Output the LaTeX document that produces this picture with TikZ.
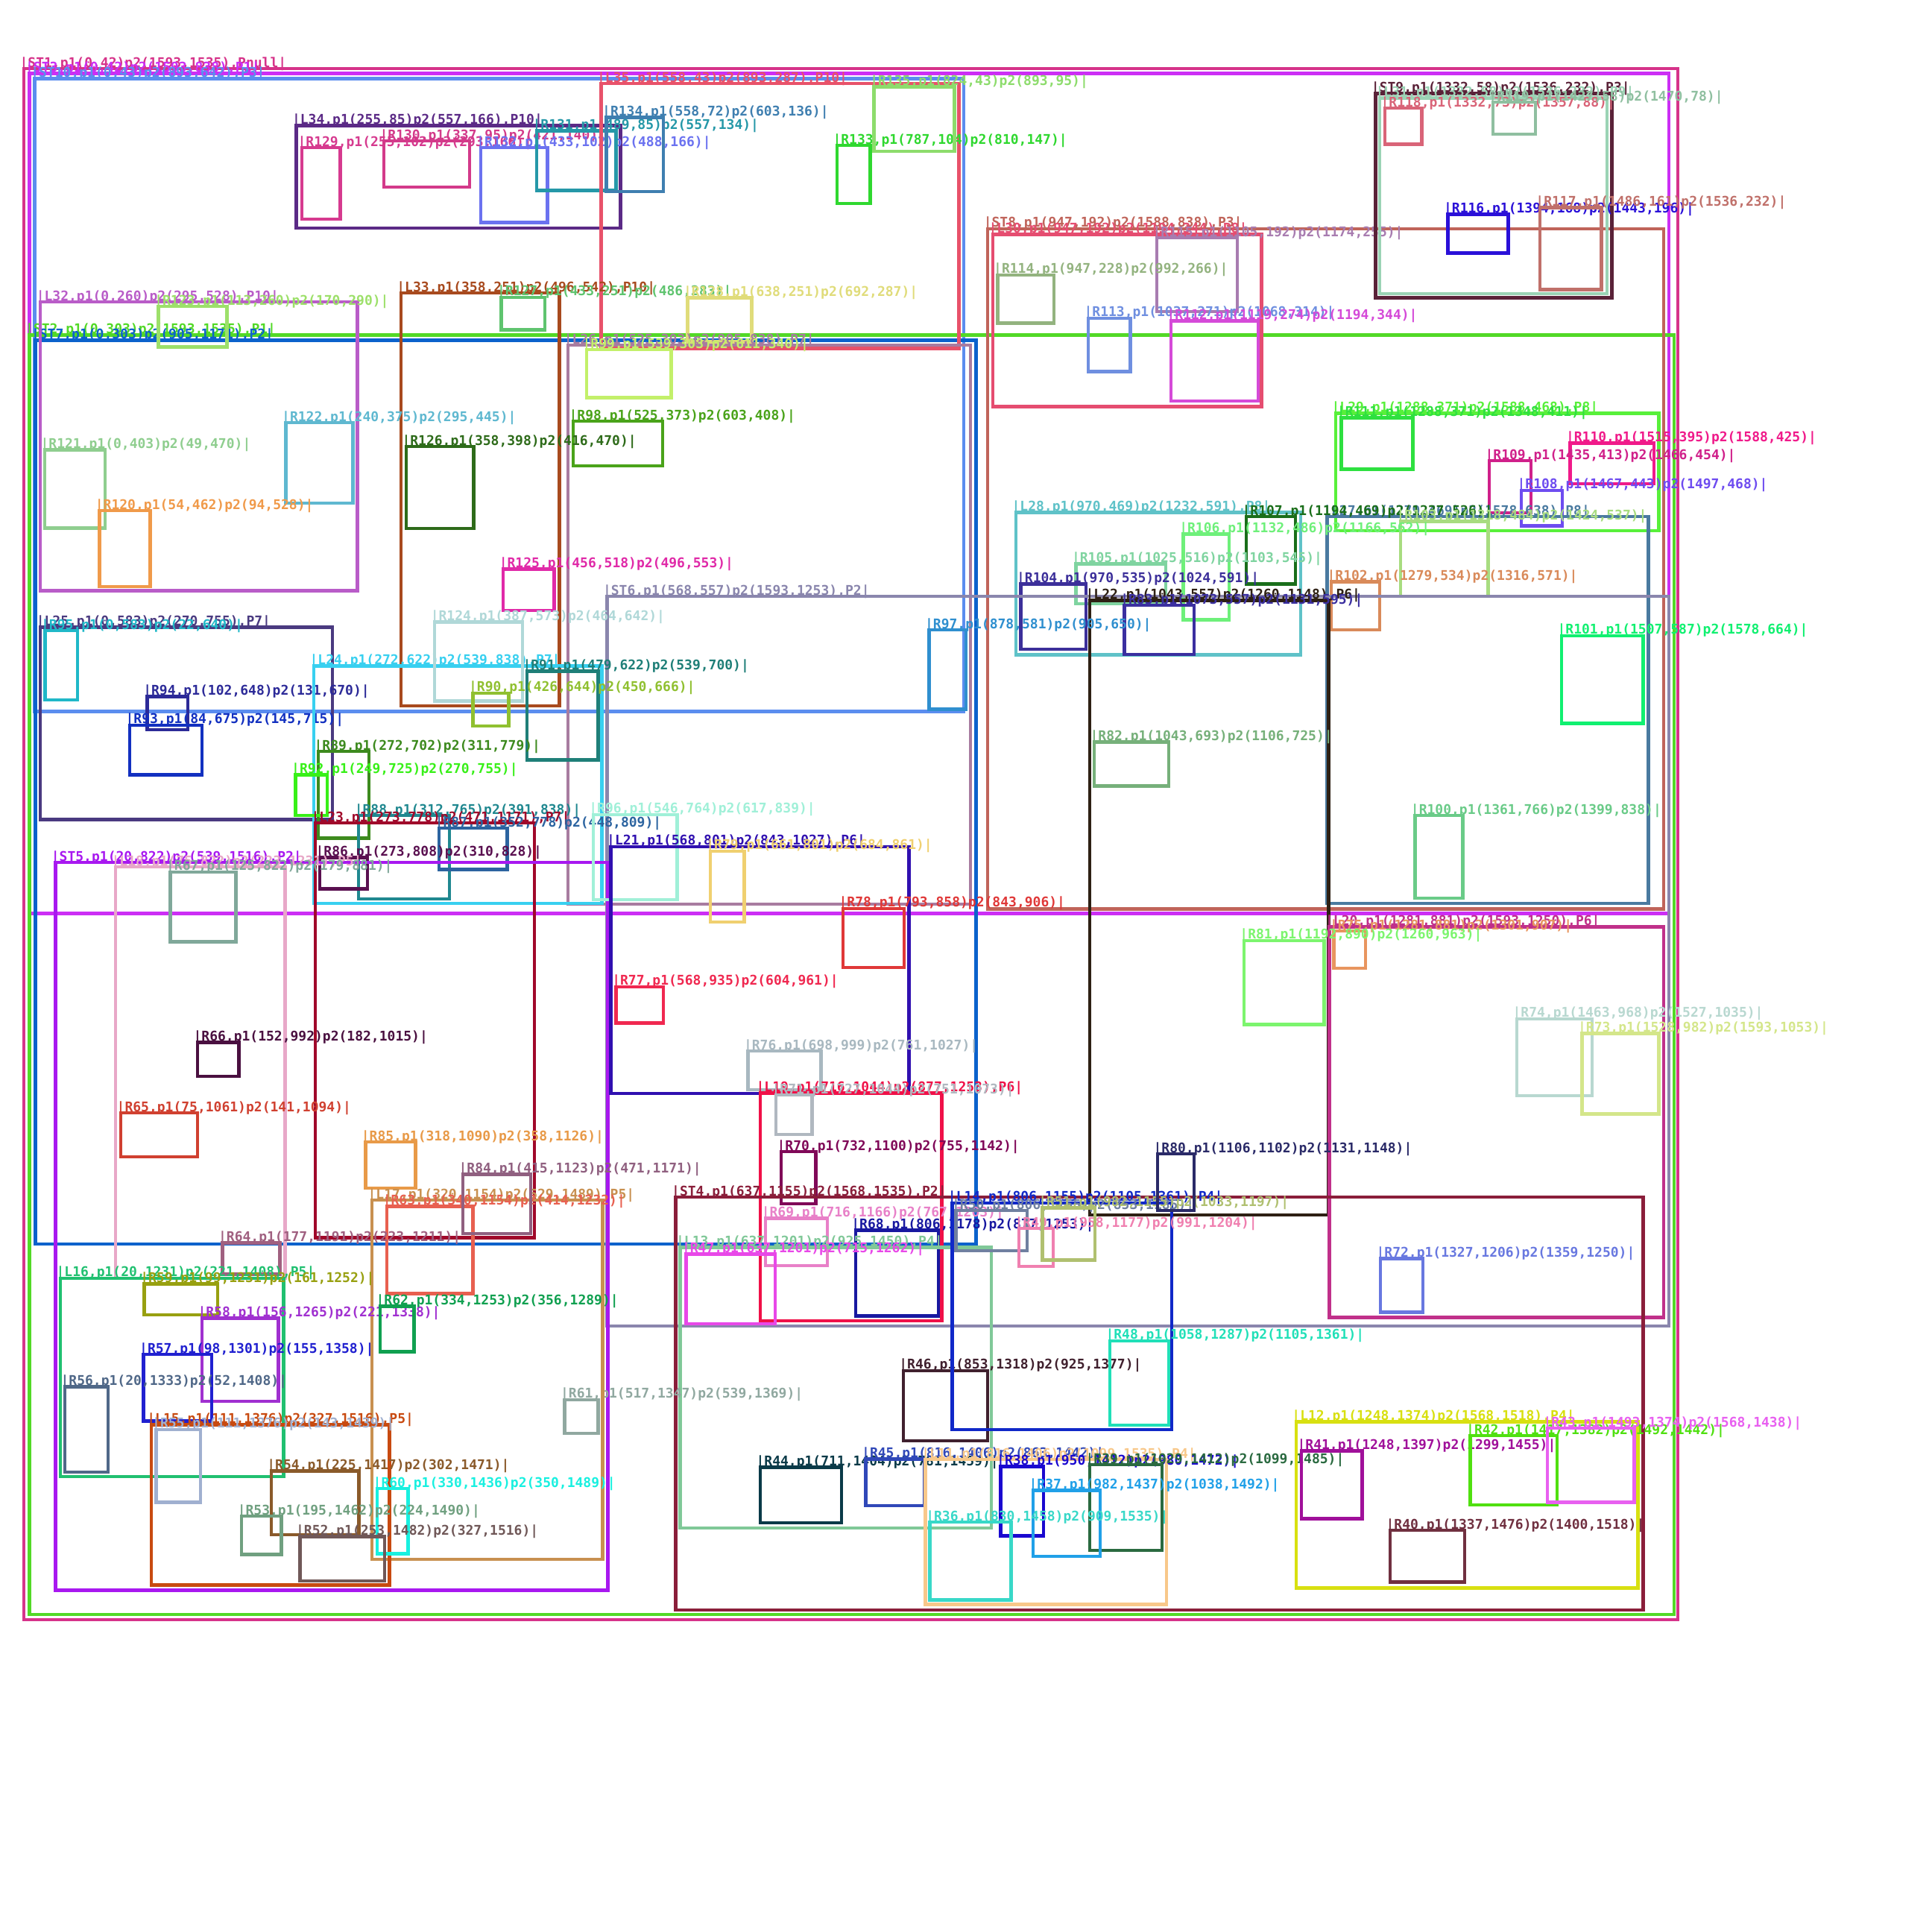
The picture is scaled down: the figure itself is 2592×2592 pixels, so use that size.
\documentclass[tikz,border=0pt]{standalone}
\usepackage{fontspec}
\newfontfamily\lblfont{DejaVu Sans Mono}
\tikzset{
  bxline/.style={line width=4.5pt},
  bxlab/.style={font=\lblfont\bfseries\fontsize{18}{18}\selectfont, anchor=base west, inner sep=0pt, outer sep=0pt}
}
\newcommand\mybox[7]{%
  \definecolor{bxc}{HTML}{#2}%
  \draw[bxline,draw=bxc] (#3,#4) rectangle (#5,#6);
  \node[bxlab,text=bxc] (#1) at ({#3-5.4},{#4-2}) {#7};
}
\begin{document}
\begin{tikzpicture}[x=1pt,y=-1pt]
\fill[white] (0,0) rectangle (2592,2592);
\useasboundingbox (0,0) rectangle (2592,2592);
\mybox{ST1}{D6338A}{32}{92}{2251}{2173}{|ST1,p1(0,42)p2(1593,1535),Pnull|}
\mybox{ST3}{CC2EF5}{39.5}{98.5}{2239}{1225.6}{|ST3,p1(0,42)p2(1593,838),P1|}
\mybox{ST10}{5B8DEF}{46.7}{105.3}{1293}{954.7}{|ST10,p1(0,43)p2(893,642),P3|}
\mybox{ST2}{52D926}{39.5}{449.5}{2245.8}{2166}{|ST2,p1(0,303)p2(1593,1535),P1|}
\mybox{ST7}{0B62CC}{47.4}{456.3}{1309.4}{1669}{|ST7,p1(0,303)p2(905,1171),P2|}
\mybox{L34}{5B2A86}{397.4}{168.7}{832.6}{306}{|L34,p1(255,85)p2(557,166),P10|}
\mybox{R129}{D63A8F}{405}{198}{456.7}{294}{|R129,p1(255,102)p2(293,166)|}
\mybox{R130}{D33A8A}{515}{189}{630}{251}{|R130,p1(337,95)p2(421,140)|}
\mybox{R132}{6B72F0}{644.8}{198}{734.6}{298.7}{|R132,p1(433,102)p2(488,166)|}
\mybox{R131}{2598A8}{720}{175.5}{826.7}{255.6}{|R131,p1(489,85)p2(557,134)|}
\mybox{L35}{E8526A}{806.5}{112}{1286.4}{467.6}{|L35,p1(558,43)p2(893,287),P10|}
\mybox{R134}{3F7FB0}{813.6}{157.4}{890}{257}{|R134,p1(558,72)p2(603,136)|}
\mybox{R133}{2FD82F}{1122.9}{195}{1167.5}{272.9}{|R133,p1(787,104)p2(810,147)|}
\mybox{R135}{8DDC6C}{1172.7}{116.6}{1280.5}{203}{|R135,p1(824,43)p2(893,95)|}
\mybox{L32}{B95CC8}{54.2}{405}{479.6}{792.6}{|L32,p1(0,260)p2(295,528),P10|}
\mybox{R123}{9DE06A}{212.7}{411}{304.5}{465.3}{|R123,p1(113,260)p2(170,290)|}
\mybox{L33}{A84A1E}{537.8}{393}{750.4}{947}{|L33,p1(358,251)p2(496,542),P10|}
\mybox{R127}{5FC46F}{672.5}{398.8}{731}{442.7}{|R127,p1(433,251)p2(486,283)|}
\mybox{R128}{E0DC7A}{922.4}{399.7}{1008.6}{458.6}{|R128,p1(638,251)p2(692,287)|}
\mybox{L26}{A87CA0}{762.2}{463}{1301.9}{1213}{|L26,p1(525,303)p2(905,838),P7|}
\mybox{R99}{C3F06A}{787}{469}{900.6}{533.3}{|R99,p1(539,303)p2(611,340)|}
\mybox{R98}{4AA31A}{769}{565}{889}{625}{|R98,p1(525,373)p2(603,408)|}
\mybox{R126}{2E6B1A}{544.9}{599}{635.7}{709}{|R126,p1(358,398)p2(416,470)|}
\mybox{R122}{5FB8D0}{383.6}{567.2}{473.3}{675}{|R122,p1(240,375)p2(295,445)|}
\mybox{R121}{8FCE8F}{60}{603.5}{141.2}{708.6}{|R121,p1(0,403)p2(49,470)|}
\mybox{R120}{F09A4A}{133.3}{685}{201.7}{787}{|R120,p1(54,462)p2(94,528)|}
\mybox{R125}{E02AA8}{675.2}{763.4}{743.6}{818.9}{|R125,p1(456,518)p2(496,553)|}
\mybox{ST8}{C0645A}{1325.2}{306.8}{2231.8}{1219.7}{|ST8,p1(947,192)p2(1588,838),P3|}
\mybox{L30}{E54D70}{1332}{314.5}{1692.5}{545.5}{|L30,p1(947,192)p2(1194,344),P8|}
\mybox{R115}{A87CB0}{1552}{319}{1660}{417.8}{|R115,p1(1105,192)p2(1174,255)|}
\mybox{R114}{93B37F}{1338.6}{368.9}{1413.8}{433.6}{|R114,p1(947,228)p2(992,266)|}
\mybox{R113}{6F8FE0}{1460}{426.8}{1516.6}{498.4}{|R113,p1(1037,271)p2(1068,314)|}
\mybox{R112}{D54AD8}{1571}{430.5}{1687.8}{537.8}{|R112,p1(1119,274)p2(1194,344)|}
\mybox{ST9}{5A2238}{1845.3}{125.7}{2162.7}{399.7}{|ST9,p1(1332,58)p2(1536,232),P3|}
\mybox{L31}{9BD3B5}{1851}{131.6}{2156}{394.2}{|L31,p1(1332,58)p2(1536,232),P9|}
\mybox{R118}{D96478}{1858}{145}{1907.5}{193.6}{|R118,p1(1332,73)p2(1357,88)|}
\mybox{R119}{8FBFA0}{2002.8}{137}{2059.8}{180}{|R119,p1(1427,58)p2(1470,78)|}
\mybox{R116}{2A10D8}{1942.5}{287.4}{2023.7}{339.4}{|R116,p1(1394,168)p2(1443,196)|}
\mybox{R117}{C0706A}{2065.8}{278.7}{2148.6}{388.3}{|R117,p1(1486,161)p2(1536,232)|}
\mybox{L29}{58F03A}{1792}{554.6}{2225.7}{712.2}{|L29,p1(1288,371)p2(1588,468),P8|}
\mybox{R111}{2EE040}{1799.3}{560.5}{1895.5}{629.3}{|R111,p1(1288,371)p2(1348,411)|}
\mybox{R110}{F01A8A}{2106.4}{594.4}{2218.9}{648.8}{|R110,p1(1515,395)p2(1588,425)|}
\mybox{R109}{D0208A}{1998}{618}{2053.8}{688.2}{|R109,p1(1435,413)p2(1466,454)|}
\mybox{R108}{6E4CF0}{2041}{657.8}{2096}{705.4}{|R108,p1(1467,443)p2(1497,468)|}
\mybox{L28}{5FC2C8}{1363}{687.3}{1745}{878.7}{|L28,p1(970,469)p2(1232,591),P8|}
\mybox{L27}{4A7AA0}{1780.7}{693}{2211.7}{1212}{|L27,p1(1279,469)p2(1578,638),P8|}
\mybox{R107}{1A6E1A}{1672}{693}{1738}{783.5}{|R107,p1(1194,469)p2(1237,526)|}
\mybox{R103}{A8DC80}{1879}{699.5}{1996.7}{799.9}{|R103,p1(1318,484)p2(1424,537)|}
\mybox{R106}{6EF07A}{1587.7}{716.7}{1649}{831.6}{|R106,p1(1132,486)p2(1166,562)|}
\mybox{R105}{7FD4A0}{1443.4}{756.6}{1564}{809.8}{|R105,p1(1025,516)p2(1103,545)|}
\mybox{R104}{3C2F9A}{1369.5}{783.5}{1457.2}{871}{|R104,p1(970,535)p2(1024,591)|}
\mybox{R102}{D98A5A}{1786}{780.4}{1851}{845}{|R102,p1(1279,534)p2(1316,571)|}
\mybox{ST6}{8A86AD}{814.4}{800}{2239}{1779}{|ST6,p1(568,557)p2(1593,1253),P2|}
\mybox{L22}{2E2014}{1462}{805.3}{1782.3}{1630}{|L22,p1(1043,557)p2(1260,1148),P6|}
\mybox{R83}{3B2FA0}{1508.7}{812}{1602}{877.8}{|R83,p1(1073,557)p2(1131,595)|}
\mybox{R97}{2F8FCF}{1246.5}{845}{1296}{951.6}{|R97,p1(878,581)p2(905,650)|}
\mybox{R101}{10F070}{2095}{852.8}{2204.5}{970.6}{|R101,p1(1507,587)p2(1578,664)|}
\mybox{R82}{76B07A}{1468}{995.5}{1568}{1054.4}{|R82,p1(1043,693)p2(1106,725)|}
\mybox{R100}{6ACB88}{1898.3}{1094}{1962.6}{1205}{|R100,p1(1361,766)p2(1399,838)|}
\mybox{L20}{C0308A}{1783.5}{1243.7}{2231.8}{1767.6}{|L20,p1(1281,881)p2(1593,1250),P6|}
\mybox{R75}{E8955F}{1789.4}{1249}{1832}{1299}{|R75,p1(1281,881)p2(1301,907)|}
\mybox{R81}{7CF56E}{1668.8}{1261.8}{1776.3}{1374.6}{|R81,p1(1192,890)p2(1260,963)|}
\mybox{R74}{B8D8D0}{2035}{1366.9}{2136}{1470}{|R74,p1(1463,968)p2(1527,1035)|}
\mybox{R73}{D4E68A}{2122.5}{1386.4}{2225.7}{1494.4}{|R73,p1(1528,982)p2(1593,1053)|}
\mybox{L25}{4A3A80}{54.2}{841.5}{446}{1099.7}{|L25,p1(0,583)p2(270,755),P7|}
\mybox{R95}{20B8C8}{60.5}{846}{104}{938.9}{|R95,p1(0,583)p2(22,640)|}
\mybox{R94}{2C2A98}{197.7}{934.4}{251.9}{978.8}{|R94,p1(102,648)p2(131,670)|}
\mybox{R93}{1230C0}{174}{972.9}{270.9}{1039.4}{|R93,p1(84,675)p2(145,715)|}
\mybox{L24}{38D0F0}{421}{893.6}{807.7}{1212}{|L24,p1(272,622)p2(539,838),P7|}
\mybox{R124}{B0D8D8}{583.2}{834.7}{701}{940.3}{|R124,p1(387,573)p2(464,642)|}
\mybox{R91}{1F7F78}{706.9}{900.4}{802.6}{1019.5}{|R91,p1(479,622)p2(539,700)|}
\mybox{R90}{90C030}{634.5}{929.8}{682.4}{973.8}{|R90,p1(426,644)p2(450,666)|}
\mybox{R89}{3D8A1E}{427}{1008.2}{495}{1124.6}{|R89,p1(272,702)p2(311,779)|}
\mybox{R92}{38F018}{396.6}{1039.4}{439}{1093.8}{|R92,p1(249,725)p2(270,755)|}
\mybox{R88}{208890}{481.2}{1094.2}{603}{1206}{|R88,p1(312,765)p2(391,838)|}
\mybox{L23}{A0082A}{423}{1104}{716.8}{1660.6}{|L23,p1(273,778)p2(471,1171),P7|}
\mybox{R87}{2C64A0}{589.2}{1111}{680.4}{1166.3}{|R87,p1(352,778)p2(448,809)|}
\mybox{R86}{5A1050}{429}{1150.4}{493}{1192.5}{|R86,p1(273,808)p2(310,828)|}
\mybox{ST5}{A818F0}{74.3}{1157.2}{815.6}{2133.5}{|ST5,p1(20,822)p2(539,1516),P2|}
\mybox{L18}{E8A8C8}{155}{1163}{382.4}{1714.8}{|L18,p1(75,822)p2(223,1231),P5|}
\mybox{R67}{80A89A}{228.5}{1169.9}{316.3}{1263.6}{|R67,p1(125,822)p2(179,881)|}
\mybox{R66}{4A1040}{265}{1398.6}{320.3}{1443.9}{|R66,p1(152,992)p2(182,1015)|}
\mybox{R96}{A0F0D8}{795.8}{1092.9}{908.5}{1207}{|R96,p1(546,764)p2(617,839)|}
\mybox{L21}{3010B0}{819.6}{1135.9}{1219.7}{1467}{|L21,p1(568,801)p2(843,1027),P6|}
\mybox{R79}{F0D070}{952.8}{1141.8}{998.3}{1236.9}{|R79,p1(661,801)p2(684,861)|}
\mybox{R78}{E03838}{1131}{1218.8}{1213}{1298}{|R78,p1(793,858)p2(843,906)|}
\mybox{R77}{F02850}{826.7}{1323.9}{890}{1372.3}{|R77,p1(568,935)p2(604,961)|}
\mybox{R76}{A8B8C0}{1003.4}{1410}{1101.5}{1462}{|R76,p1(698,999)p2(761,1027)|}
\mybox{L19}{F01048}{1020}{1466.5}{1263.5}{1772.2}{|L19,p1(716,1044)p2(877,1253),P6|}
\mybox{R71}{B0B8C0}{1041}{1469.2}{1089.6}{1522}{|R71,p1(727,1044)p2(751,1073)|}
\mybox{R70}{800858}{1048}{1545}{1094.4}{1615}{|R70,p1(732,1100)p2(755,1142)|}
\mybox{ST4}{8A1E3A}{906.6}{1606}{2204.5}{2160}{|ST4,p1(637,1155)p2(1568,1535),P2|}
\mybox{R69}{E880C8}{1027.2}{1634.5}{1110}{1697.8}{|R69,p1(716,1166)p2(767,1203)|}
\mybox{R68}{1818A0}{1147.8}{1650.5}{1258.8}{1765.3}{|R68,p1(806,1178)p2(877,1253)|}
\mybox{L13}{80C898}{912.5}{1673.5}{1330}{2050}{|L13,p1(637,1201)p2(925,1450),P4|}
\mybox{R47}{E848E8}{920.4}{1682.7}{1040.2}{1775.9}{|R47,p1(637,1201)p2(715,1262)|}
\mybox{R61}{90A8A0}{757.5}{1877.8}{802.6}{1922.8}{|R61,p1(517,1347)p2(539,1369)|}
\mybox{R44}{0A3A48}{1020}{1968.7}{1128.8}{2043}{|R44,p1(711,1404)p2(781,1459)|}
\mybox{R45}{3048B8}{1161.6}{1957.3}{1239.8}{2020}{|R45,p1(816,1406)p2(863,1442)|}
\mybox{R46}{40202E}{1211.8}{1838.8}{1324.8}{1933}{|R46,p1(853,1318)p2(925,1377)|}
\mybox{L14}{1028C8}{1277.3}{1613.8}{1571.9}{1918.2}{|L14,p1(806,1155)p2(1105,1361),P4|}
\mybox{R50}{7080A0}{1282.5}{1624}{1378.2}{1678}{|R50,p1(806,1155)p2(853,1185)|}
\mybox{R49}{F080B0}{1367}{1648.2}{1413}{1698.8}{|R49,p1(958,1177)p2(991,1204)|}
\mybox{R51}{B0C070}{1398.7}{1620.7}{1469}{1690.5}{|R51,p1(982,1155)p2(1033,1197)|}
\mybox{R80}{2A2A68}{1553}{1548}{1602}{1624}{|R80,p1(1106,1102)p2(1131,1148)|}
\mybox{R48}{20E0B8}{1488.9}{1798.8}{1568}{1912}{|R48,p1(1058,1287)p2(1105,1361)|}
\mybox{L11}{F8C88A}{1241.7}{1958}{1565.2}{2152.4}{|L11,p1(816,1406)p2(1099,1535),P4|}
\mybox{R38}{1A08D0}{1342.6}{1967.3}{1400}{2060.5}{|R38,p1(950,1412)p2(980,1472)|}
\mybox{R39}{2A6A40}{1462}{1965}{1558.9}{2079.8}{|R39,p1(1029,1412)p2(1099,1485)|}
\mybox{R37}{20A0E8}{1386}{1999.5}{1476.2}{2088}{|R37,p1(982,1437)p2(1038,1492)|}
\mybox{R36}{38D8C8}{1247.7}{2042.2}{1356.4}{2146.4}{|R36,p1(830,1458)p2(909,1535)|}
\mybox{L12}{D8E010}{1738.8}{1907.7}{2197.6}{2130.3}{|L12,p1(1248,1374)p2(1568,1518),P4|}
\mybox{R41}{A0109A}{1746}{1946.7}{1827.7}{2037.6}{|R41,p1(1248,1397)p2(1299,1455)|}
\mybox{R42}{50E010}{1972.6}{1926}{2089}{2019.2}{|R42,p1(1417,1382)p2(1492,1442)|}
\mybox{R43}{E860F0}{2075.9}{1916}{2192.4}{2015.6}{|R43,p1(1493,1374)p2(1568,1438)|}
\mybox{R40}{703040}{1865}{2053.2}{1965}{2122.5}{|R40,p1(1337,1476)p2(1400,1518)|}
\mybox{R72}{6878E0}{1852}{1688.7}{1909}{1760.7}{|R72,p1(1327,1206)p2(1359,1250)|}
\mybox{R65}{D04030}{162.1}{1493}{265}{1551.8}{|R65,p1(75,1061)p2(141,1094)|}
\mybox{R85}{E89A48}{490.3}{1532}{557.5}{1594}{|R85,p1(318,1090)p2(358,1126)|}
\mybox{L17}{C89050}{499}{1610}{808.5}{2092.2}{|L17,p1(320,1154)p2(529,1489),P5|}
\mybox{R63}{E86050}{519.2}{1618.4}{634.5}{1735.5}{|R63,p1(340,1154)p2(414,1232)|}
\mybox{R84}{906080}{621}{1575.7}{712}{1655}{|R84,p1(415,1123)p2(471,1171)|}
\mybox{R64}{A06080}{298.5}{1667.5}{375.6}{1709.3}{|R64,p1(177,1191)p2(223,1211)|}
\mybox{L16}{20C070}{81}{1714.8}{380.4}{1981}{|L16,p1(20,1231)p2(221,1408),P5|}
\mybox{R59}{98A010}{193.7}{1722.6}{291.8}{1764}{|R59,p1(99,1231)p2(161,1252)|}
\mybox{R58}{A030D0}{270.9}{1768.5}{373.7}{1880}{|R58,p1(156,1265)p2(221,1338)|}
\mybox{R62}{10A050}{510}{1752.5}{555.6}{1813.5}{|R62,p1(334,1253)p2(356,1289)|}
\mybox{R57}{2020D0}{192.6}{1817.2}{284}{1906.7}{|R57,p1(98,1301)p2(155,1358)|}
\mybox{R56}{506888}{87}{1860.4}{145}{1975.2}{|R56,p1(20,1333)p2(52,1408)|}
\mybox{L15}{C84A10}{202.8}{1911.3}{522.7}{2126.7}{|L15,p1(111,1376)p2(327,1516),P5|}
\mybox{R55}{A0B0D0}{209.6}{1917.8}{268.9}{2015.6}{|R55,p1(111,1376)p2(143,1439)|}
\mybox{R54}{8A5A2A}{363.8}{1973.3}{481.6}{2059.2}{|R54,p1(225,1417)p2(302,1471)|}
\mybox{R60}{18F0E0}{506.1}{1997.2}{547.6}{2084.4}{|R60,p1(330,1436)p2(350,1489)|}
\mybox{R53}{70A080}{324.2}{2034}{377.6}{2085.3}{|R53,p1(195,1462)p2(224,1490)|}
\mybox{R52}{705858}{402.5}{2061.5}{516}{2121.2}{|R52,p1(253,1482)p2(327,1516)|}
\end{tikzpicture}
\end{document}
